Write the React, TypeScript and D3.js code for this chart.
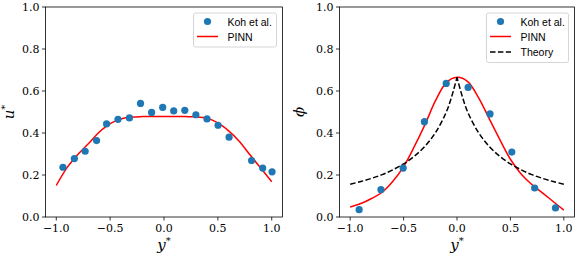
import * as d3 from "d3";

// left panel: velocity
const kohU_y = [-0.938, -0.832, -0.732, -0.626, -0.533, -0.427, -0.321, -0.218, -0.115, -0.012, 0.09, 0.193, 0.296, 0.399, 0.502, 0.604, 0.813, 0.916, 1.003];
const kohU_v = [0.237, 0.278, 0.313, 0.364, 0.443, 0.465, 0.472, 0.541, 0.498, 0.522, 0.505, 0.508, 0.487, 0.467, 0.437, 0.38, 0.269, 0.233, 0.215];
const pinnU_y = [-1.0, -0.9, -0.8, -0.7, -0.6, -0.5, -0.4, -0.3, -0.2, -0.1, 0.0, 0.1, 0.2, 0.3, 0.4, 0.5, 0.6, 0.7, 0.8, 0.9, 1.0];
const pinnU_v = [0.15, 0.235, 0.298, 0.35, 0.405, 0.445, 0.467, 0.476, 0.478, 0.478, 0.478, 0.478, 0.478, 0.477, 0.47, 0.448, 0.41, 0.36, 0.295, 0.232, 0.168];

// right panel: concentration
const kohPhi_y = [-0.916, -0.712, -0.504, -0.305, -0.101, 0.104, 0.309, 0.513, 0.727, 0.922];
const kohPhi_v = [0.035, 0.13, 0.233, 0.454, 0.636, 0.617, 0.491, 0.309, 0.138, 0.043];
const pinnPhi_y = [-1.0, -0.9, -0.8, -0.7, -0.6, -0.5, -0.4, -0.3, -0.2, -0.1, 0.0, 0.1, 0.2, 0.3, 0.4, 0.5, 0.6, 0.7, 0.8, 0.9, 1.0];
const pinnPhi_v = [0.048, 0.064, 0.088, 0.118, 0.17, 0.24, 0.335, 0.44, 0.555, 0.64, 0.665, 0.645, 0.57, 0.47, 0.37, 0.275, 0.205, 0.155, 0.115, 0.074, 0.033];
const theory_y = [-1.0, -0.9, -0.8, -0.7, -0.6, -0.5, -0.4, -0.3, -0.2, -0.1, -0.05, 0.0, 0.05, 0.1, 0.2, 0.3, 0.4, 0.5, 0.6, 0.7, 0.8, 0.9, 1.0];
const theory_v = [0.156, 0.169, 0.184, 0.202, 0.225, 0.253, 0.289, 0.337, 0.403, 0.5, 0.573, 0.665, 0.573, 0.5, 0.403, 0.337, 0.289, 0.253, 0.225, 0.202, 0.184, 0.169, 0.156];

const xTicks = [-1.0, -0.5, 0.0, 0.5, 1.0];
const yTicks = [0.0, 0.2, 0.4, 0.6, 0.8, 1.0];

const serif = "'DejaVu Serif', 'Liberation Serif', serif";
const sans = "'Liberation Sans', 'DejaVu Sans', sans-serif";
const fmt = (v: number) => v.toFixed(1).replace("-", "\u2212");

type Series = { xs: number[]; ys: number[] };

function Panel(props: {
  left: number;
  right: number;
  pts: Series;
  pinn: Series;
  theory?: Series;
  ylabel: string;
  legendW: number;
}) {
  const { left, right, pts, pinn, theory, ylabel, legendW } = props;
  const top = 7;
  const bottom = 217;
  const x = d3.scaleLinear().domain([-1.1, 1.1]).range([left, right]);
  const y = d3.scaleLinear().domain([0, 1]).range([bottom, top]);
  const line = d3
    .line<[number, number]>()
    .x(d => x(d[0]))
    .y(d => y(d[1]))
    .curve(d3.curveCatmullRom);
  const zip = (s: Series) => s.xs.map((v, i) => [v, s.ys[i]] as [number, number]);
  const lx = right - 6 - legendW;
  const rows = theory ? 3 : 2;
  const lh = 15.5 * rows + 3;
  // the theory curve has a cusp at y*=0, so draw each side on its own
  const thL = theory ? zip(theory).filter(d => d[0] <= 0) : [];
  const thR = theory ? zip(theory).filter(d => d[0] >= 0) : [];
  const dash = "5.5,2.4";

  return (
    <g>
      <path d={line(zip(pinn)) ?? ""} fill="none" stroke="red" strokeWidth={1.5} />
      {theory && (
        <>
          <path d={line(thL) ?? ""} fill="none" stroke="black" strokeWidth={1.5} strokeDasharray={dash} />
          <path d={line(thR.reverse()) ?? ""} fill="none" stroke="black" strokeWidth={1.5} strokeDasharray={dash} />
        </>
      )}
      {pts.xs.map((v, i) => (
        <circle key={i} cx={x(v)} cy={y(pts.ys[i])} r={3.6} fill="#1f77b4" />
      ))}
      <rect x={left} y={top} width={right - left} height={bottom - top} fill="none" stroke="black" strokeWidth={0.8} />
      {xTicks.map(t => (
        <g key={t}>
          <line x1={x(t)} x2={x(t)} y1={bottom} y2={bottom + 3.5} stroke="black" strokeWidth={0.8} />
          <text x={x(t)} y={bottom + 15} textAnchor="middle" fontFamily={serif} fontSize={11}>
            {fmt(t)}
          </text>
        </g>
      ))}
      {yTicks.map(t => (
        <g key={t}>
          <line x1={left - 3.5} x2={left} y1={y(t)} y2={y(t)} stroke="black" strokeWidth={0.8} />
          <text x={left - 6} y={y(t) + 4} textAnchor="end" fontFamily={serif} fontSize={11}>
            {fmt(t)}
          </text>
        </g>
      ))}
      <text x={(left + right) / 2} y={250} textAnchor="middle" fontFamily={serif} fontSize={15} fontStyle="italic">
        y<tspan dy={-6} fontSize={10} fontStyle="normal">*</tspan>
      </text>
      <text
        transform={`translate(${ylabel === "u" ? left - 32 : left - 36},${(top + bottom) / 2}) rotate(-90)`}
        textAnchor="middle"
        fontFamily={serif}
        fontSize={15}
        fontStyle="italic"
      >
        {ylabel === "u" ? (
          <>
            u<tspan dy={-6} fontSize={10} fontStyle="normal">*</tspan>
          </>
        ) : (
          ylabel
        )}
      </text>
      <rect x={lx} y={13} width={legendW} height={lh} rx={2} fill="white" fillOpacity={0.8} stroke="#cccccc" strokeWidth={0.8} />
      <circle cx={lx + 14} cy={21.5} r={3.6} fill="#1f77b4" />
      <text x={lx + 34} y={25.5} fontFamily={sans} fontSize={10.5}>Koh et al.</text>
      <line x1={lx + 3.5} x2={lx + 24.5} y1={36.5} y2={36.5} stroke="red" strokeWidth={1.5} />
      <text x={lx + 34} y={40.5} fontFamily={sans} fontSize={10.5}>PINN</text>
      {theory && (
        <>
          <line x1={lx + 3.5} x2={lx + 24.5} y1={52} y2={52} stroke="black" strokeWidth={1.5} strokeDasharray={dash} />
          <text x={lx + 34} y={56} fontFamily={sans} fontSize={10.5}>Theory</text>
        </>
      )}
    </g>
  );
}

export default function App() {
  return (
    <div style={{ position: "absolute", left: 0, top: 0 }}>
      <svg width={581} height={259} style={{ display: "block", background: "white" }}>
        <Panel
          left={45.5}
          right={282.5}
          pts={{ xs: kohU_y, ys: kohU_v }}
          pinn={{ xs: pinnU_y, ys: pinnU_v }}
          ylabel="u"
          legendW={83}
        />
        <Panel
          left={339.5}
          right={574.5}
          pts={{ xs: kohPhi_y, ys: kohPhi_v }}
          pinn={{ xs: pinnPhi_y, ys: pinnPhi_v }}
          theory={{ xs: theory_y, ys: theory_v }}
          ylabel={"\u03d5"}
          legendW={82}
        />
      </svg>
    </div>
  );
}
